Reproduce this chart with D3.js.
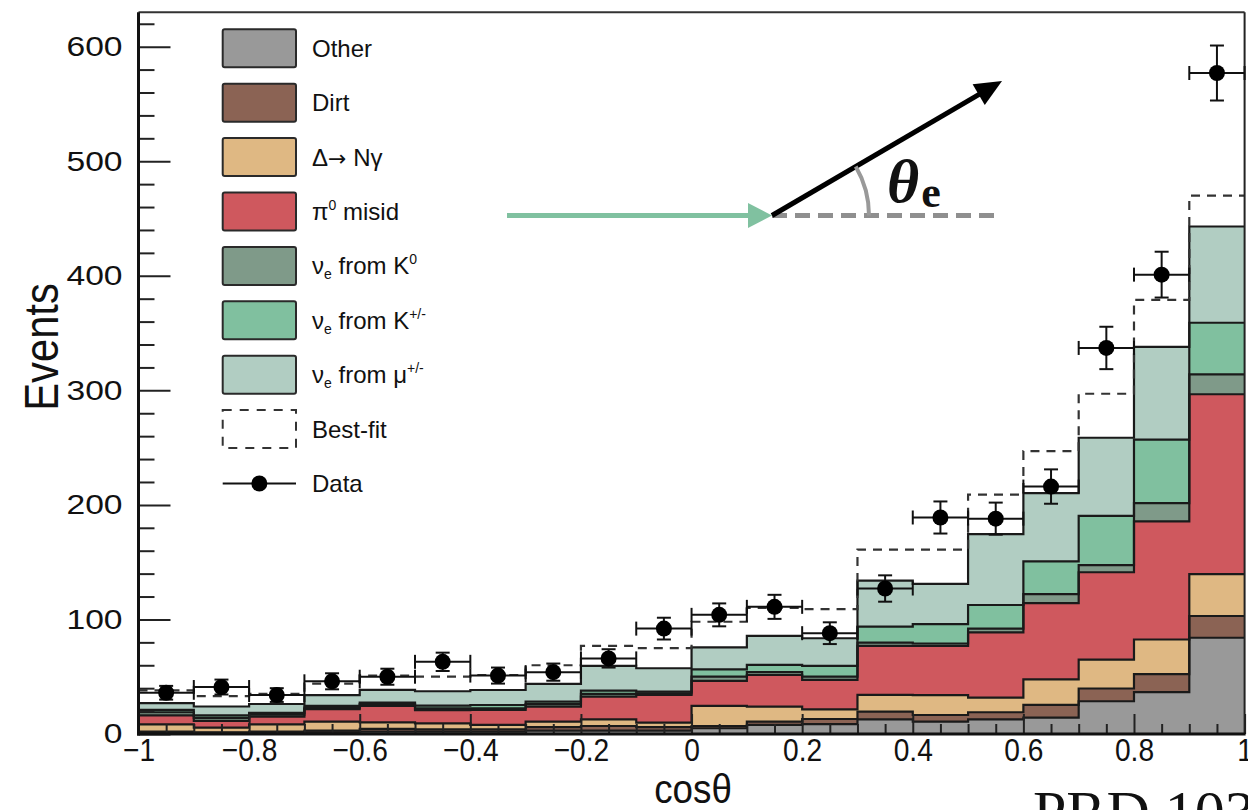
<!DOCTYPE html>
<html><head><meta charset="utf-8">
<script src="https://cdn.jsdelivr.net/npm/d3@7"></script>
<style>
html,body{margin:0;padding:0;background:#fff;}
svg text{font-family:"Liberation Sans",Arial,Helvetica,sans-serif;fill:#111;}
</style></head><body>
<svg id="c" width="1248" height="810"></svg>
<script>
// ---------------- data ----------------
const binCenters = [-0.95,-0.85,-0.75,-0.65,-0.55,-0.45,-0.35,-0.25,-0.15,-0.05,0.05,0.15,0.25,0.35,0.45,0.55,0.65,0.75,0.85,0.95];
const binHalfWidth = 0.05;
const other = [1.0,1.0,1.0,1.5,2.0,2.0,2.0,3.0,3.0,3.0,5.0,8.0,8.7,12.8,10.8,12.7,14.3,28.6,36.5,84.0];
const dirt  = [1.0,0.5,1.0,1.5,2.5,2.0,2.0,3.0,4.0,3.0,2.0,2.8,4.4,6.7,5.8,6.3,11.1,11.1,15.8,19.0];
const deltaNg = [6.4,4.0,6.4,7.8,5.7,5.3,3.9,4.8,5.8,3.9,17.5,13.1,8.4,14.6,17.4,12.7,22.2,25.3,30.2,36.6];
const pi0Misid = [7.9,5.9,6.7,11.0,14.3,11.5,13.1,13.1,19.8,24.2,21.8,27.6,25.7,42.8,42.9,57.1,66.6,76.2,103.1,157.0];
const nueK0 = [2.7,2.6,1.9,1.2,1.5,1.5,1.5,2.1,2.4,1.4,3.7,2.5,2.8,2.9,2.1,3.2,7.9,6.3,15.9,17.4];
const nueKpm = [2.0,2.3,1.5,1.5,1.5,2.5,2.8,2.2,2.8,1.5,6.5,6.3,9.4,13.9,17.0,20.6,28.6,42.9,55.5,45.0];
const nueMu = [6.0,7.7,7.7,9.5,11.0,12.5,13.1,15.5,21.6,20.4,19.2,25.3,24.2,40.2,35.0,61.9,59.6,68.2,80.9,84.0];
const bestFit = [38,33,35,44,51,50,51.5,60,77,75,98,110,109,161,161,209,247,297,379,470];
const dataCounts = [36,41,34,46,50,63,51,54,66,92,104,111,88,127,189,188,216,337,401,577];
const dataErr = [6,6.5,6,7,7,8,7,7.5,8,9.5,10,10.5,9.5,11.5,14,14,15,18.5,20,24];

const yTickValues = [0,100,200,300,400,500,600];
const yTickLabels = ["0","100","200","300","400","500","600"];
const xTickValues = [-1,-0.8,-0.6,-0.4,-0.2,0,0.2,0.4,0.6,0.8,1];
const xTickLabels = ["\u22121","\u22120.8","\u22120.6","\u22120.4","\u22120.2","0","0.2","0.4","0.6","0.8","1"];

const layerKeys = ["other","dirt","delta","pi0","k0","kpm","mu"];
const layerValues = [other,dirt,deltaNg,pi0Misid,nueK0,nueKpm,nueMu];
const layerColors = ["#999999","#8b6354","#dfb883","#cf585e","#7f9a89","#80c09f","#b1cdc2"];

// ---------------- layout ----------------
const svg = d3.select("#c");
const L = 138.5, R = 1244.6, T = 12.3, B = 734;
const x = d3.scaleLinear().domain([-1,1]).range([L,R]);
const y = d3.scaleLinear().domain([0,630]).range([B,T]);

svg.append("defs").append("clipPath").attr("id","plot")
  .append("rect").attr("x",L).attr("y",T).attr("width",R-L).attr("height",B-T);

// stacked table
const rows = binCenters.map((c,i)=>{
  const r = {c};
  layerKeys.forEach((k,j)=>{ r[k] = layerValues[j][i]; });
  return r;
});
const series = d3.stack().keys(layerKeys)(rows);

function stepPts(s){
  const pts = [];
  s.forEach((d,i)=>{
    const c = rows[i].c;
    pts.push({x:c-binHalfWidth,y0:d[0],y1:d[1]});
    pts.push({x:c+binHalfWidth,y0:d[0],y1:d[1]});
  });
  return pts;
}
const area = d3.area().x(d=>x(d.x)).y0(d=>y(d.y0)).y1(d=>y(d.y1));
const topLine = d3.line().x(d=>x(d.x)).y(d=>y(d.y1));

const gPlot = svg.append("g").attr("clip-path","url(#plot)");
series.forEach((s,j)=>{
  gPlot.append("path").attr("d",area(stepPts(s))).attr("fill",layerColors[j]).attr("stroke","none");
});
series.forEach((s,j)=>{
  gPlot.append("path").attr("d",topLine(stepPts(s))).attr("fill","none")
    .attr("stroke","#1a1a1a").attr("stroke-width",2.2);
});

// best fit (dashed step)
const bfPts = [];
binCenters.forEach((c,i)=>{ bfPts.push({x:c-binHalfWidth,y1:bestFit[i]}); bfPts.push({x:c+binHalfWidth,y1:bestFit[i]}); });
gPlot.append("path").attr("d",topLine(bfPts)).attr("fill","none")
  .attr("stroke","#333").attr("stroke-width",2.2).attr("stroke-dasharray","9,7");

// ---------------- axes ----------------
const axisColor = "#222";
const gy = svg.append("g").attr("transform",`translate(${L},0)`)
  .call(d3.axisLeft(y).tickValues(yTickValues).tickSize(-32).tickPadding(13.3)
    .tickFormat((d,i)=>yTickLabels[i]));
gy.select(".domain").remove();
gy.selectAll("line").attr("stroke",axisColor).attr("stroke-width",2);
gy.selectAll("text").attr("font-size",28).attr("fill","#111").attr("transform","scale(1.2,1)")
  .style("font-family","'Liberation Sans',Arial,sans-serif");

const yMinor = d3.range(20,630,20).filter(v=>v%100!==0);
const gym = svg.append("g").attr("transform",`translate(${L},0)`)
  .call(d3.axisLeft(y).tickValues(yMinor).tickSize(-16).tickFormat(""));
gym.select(".domain").remove();
gym.selectAll("line").attr("stroke",axisColor).attr("stroke-width",2);

const gx = svg.append("g").attr("transform",`translate(0,${B})`)
  .call(d3.axisBottom(x).tickValues(xTickValues).tickSize(-20).tickPadding(4)
    .tickFormat((d,i)=>xTickLabels[i]));
gx.select(".domain").remove();
gx.selectAll("line").attr("stroke",axisColor).attr("stroke-width",2);
gx.selectAll("text").attr("font-size",32).attr("fill","#111").attr("transform","scale(0.88,1)")
  .style("font-family","'Liberation Sans',Arial,sans-serif");

const xMinor = d3.range(-0.95,1.0,0.05).filter(v=>Math.abs(Math.round(v*100)%20)!==0);
const gxm = svg.append("g").attr("transform",`translate(0,${B})`)
  .call(d3.axisBottom(x).tickValues(xMinor).tickSize(-10).tickFormat(""));
gxm.select(".domain").remove();
gxm.selectAll("line").attr("stroke",axisColor).attr("stroke-width",2);

// frame
svg.append("line").attr("x1",L).attr("x2",R).attr("y1",T).attr("y2",T).attr("stroke","#333").attr("stroke-width",2);
svg.append("line").attr("x1",R).attr("x2",R).attr("y1",T).attr("y2",B).attr("stroke","#222").attr("stroke-width",2);
svg.append("line").attr("x1",L).attr("x2",L).attr("y1",T).attr("y2",B+1.5).attr("stroke","#111").attr("stroke-width",3);
svg.append("line").attr("x1",L-1.5).attr("x2",R+1).attr("y1",B).attr("y2",B).attr("stroke","#111").attr("stroke-width",3);

// ---------------- data points ----------------
const gData = svg.append("g");
const cap = 7;
binCenters.forEach((c,i)=>{
  const cx = x(c), cy = y(dataCounts[i]);
  const xl = x(c-binHalfWidth), xr = x(c+binHalfWidth);
  const yt = y(dataCounts[i]+dataErr[i]), yb = y(dataCounts[i]-dataErr[i]);
  const g = gData.append("g").attr("stroke","#111").attr("stroke-width",2);
  g.append("line").attr("x1",xl).attr("x2",xr).attr("y1",cy).attr("y2",cy);
  g.append("line").attr("x1",xl).attr("x2",xl).attr("y1",cy-cap).attr("y2",cy+cap);
  g.append("line").attr("x1",xr).attr("x2",xr).attr("y1",cy-cap).attr("y2",cy+cap);
  g.append("line").attr("x1",cx).attr("x2",cx).attr("y1",yt).attr("y2",yb);
  g.append("line").attr("x1",cx-cap).attr("x2",cx+cap).attr("y1",yt).attr("y2",yt);
  g.append("line").attr("x1",cx-cap).attr("x2",cx+cap).attr("y1",yb).attr("y2",yb);
  gData.append("circle").attr("cx",cx).attr("cy",cy).attr("r",8).attr("fill","#000");
});

// ---------------- axis titles ----------------
svg.append("text").attr("transform","translate(58,347) rotate(-90) scale(0.87,1)").attr("text-anchor","middle")
  .attr("font-size",48).text("Events");
svg.append("text").attr("transform","translate(693,803) scale(0.92,1)").attr("text-anchor","middle")
  .attr("font-size",40).text("cos\u03b8");
svg.append("text").attr("x",1033).attr("y",832).attr("font-size",60)
  .style("font-family","'Liberation Serif','DejaVu Serif',serif").attr("fill","#222").text("PRD 103");

// ---------------- legend ----------------
const lg = svg.append("g");
const lx = 222.7, lw = 73.3, lh = 38, ly0 = 48.3, ldy = 54.4, ltx = 312, lfs = 24;
function addText(i, parts){
  const t = lg.append("text").attr("x",ltx).attr("y",ly0+i*ldy+8.5).attr("font-size",lfs);
  parts.forEach(p=>{
    const s = t.append("tspan").text(p.t);
    if(p.sub){ s.attr("font-size",14).attr("dy",5); }
    if(p.sup){ s.attr("font-size",14).attr("dy",-10); }
    if(p.back){ s.attr("dy",p.back); }
    if(p.arrow){ s.style("font-family","'DejaVu Sans',sans-serif").attr("font-size",22); }
  });
}
const legendLabels = [
  [{t:"Other"}],
  [{t:"Dirt"}],
  [{t:"\u0394"},{t:"\u2192",arrow:true},{t:" N\u03b3"}],
  [{t:"\u03c0"},{t:"0",sup:true},{t:" misid",back:10}],
  [{t:"\u03bd"},{t:"e",sub:true},{t:" from K",back:-5},{t:"0",sup:true}],
  [{t:"\u03bd"},{t:"e",sub:true},{t:" from K",back:-5},{t:"+/-",sup:true}],
  [{t:"\u03bd"},{t:"e",sub:true},{t:" from \u03bc",back:-5},{t:"+/-",sup:true}],
  [{t:"Best-fit"}],
  [{t:"Data"}]
];
layerColors.forEach((col,i)=>{
  lg.append("rect").attr("x",lx).attr("y",ly0+i*ldy-lh/2).attr("width",lw).attr("height",lh)
    .attr("rx",2).attr("fill",col).attr("stroke","#2a2a2a").attr("stroke-width",2);
});
lg.append("rect").attr("x",lx).attr("y",ly0+7*ldy-lh/2).attr("width",lw).attr("height",lh)
  .attr("fill","none").attr("stroke","#333").attr("stroke-width",2).attr("stroke-dasharray","9,8");
lg.append("line").attr("x1",lx).attr("x2",lx+lw).attr("y1",ly0+8*ldy).attr("y2",ly0+8*ldy)
  .attr("stroke","#111").attr("stroke-width",2);
lg.append("circle").attr("cx",lx+lw/2).attr("cy",ly0+8*ldy).attr("r",8).attr("fill","#000");
legendLabels.forEach((p,i)=>addText(i,p));

// ---------------- annotation (scattering sketch) ----------------
const ann = svg.append("g");
const ox = 772, oy = 215.5;
ann.append("line").attr("x1",507).attr("x2",752).attr("y1",oy).attr("y2",oy).attr("stroke","#80c1a0").attr("stroke-width",5);
ann.append("path").attr("d",`M748,${oy-12.5}L${ox},${oy}L748,${oy+12.5}Z`).attr("fill","#80c1a0");
ann.append("line").attr("x1",ox).attr("x2",1000).attr("y1",oy).attr("y2",oy).attr("stroke","#8f8f8f")
  .attr("stroke-width",5).attr("stroke-dasharray","15,8");
const tipX = 1002, tipY = 81;
const ang = Math.atan2(tipY-oy, tipX-ox);
const hl = 27, hw = 12;
const bx = tipX - hl*Math.cos(ang), by = tipY - hl*Math.sin(ang);
ann.append("line").attr("x1",ox).attr("y1",oy).attr("x2",bx+2*Math.cos(ang)).attr("y2",by+2*Math.sin(ang))
  .attr("stroke","#000").attr("stroke-width",5);
ann.append("path").attr("d",`M${tipX},${tipY}L${bx - hw*Math.sin(ang)},${by + hw*Math.cos(ang)}L${bx + hw*Math.sin(ang)},${by - hw*Math.cos(ang)}Z`)
  .attr("fill","#000");
const ar = 97;
ann.append("path").attr("d",`M${ox+ar},${oy}A${ar},${ar} 0 0 0 ${ox+ar*Math.cos(ang)},${oy+ar*Math.sin(ang)}`)
  .attr("fill","none").attr("stroke","#999").attr("stroke-width",4);
const th = ann.append("text").attr("x",887).attr("y",202).style("font-family","'Liberation Serif','DejaVu Serif',serif")
  .attr("font-weight","bold");
th.append("tspan").attr("font-style","italic").attr("font-size",62).text("\u03b8");
th.append("tspan").attr("font-size",44).attr("dy",5).attr("dx",2).text("e");
</script>
</body></html>
